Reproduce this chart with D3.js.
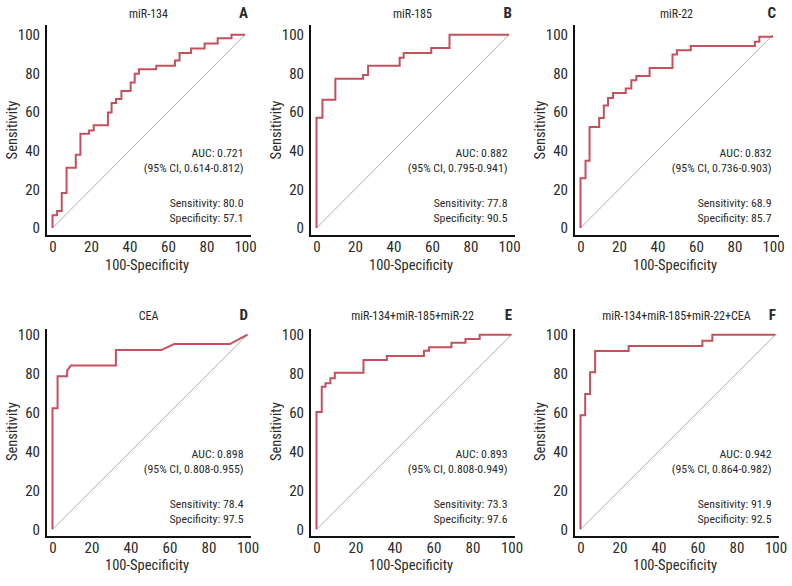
<!DOCTYPE html>
<html>
<head>
<meta charset="utf-8">
<script src="https://cdn.jsdelivr.net/npm/d3@7"></script>
<style>
  html, body { margin: 0; padding: 0; background: #fff; }
  svg { display: block; }
  text { font-family: "Liberation Sans Narrow", "Roboto Condensed", "DejaVu Sans Condensed", sans-serif; fill: #2a2a2a; }
</style>
</head>
<body>
<svg id="chart" width="792" height="586"></svg>
<script>
// ---------------- data ----------------
const titles = ["miR-134", "miR-185", "miR-22", "CEA", "miR-134+miR-185+miR-22", "miR-134+miR-185+miR-22+CEA"];
const letters = ["A", "B", "C", "D", "E", "F"];
const aucValues = ["0.721", "0.882", "0.832", "0.898", "0.893", "0.942"];
const ciValues = ["0.614-0.812", "0.795-0.941", "0.736-0.903", "0.808-0.955", "0.808-0.949", "0.864-0.982"];
const sensValues = ["80.0", "77.8", "68.9", "78.4", "73.3", "91.9"];
const specValues = ["57.1", "90.5", "85.7", "97.5", "97.6", "92.5"];
const tickValues = [0, 20, 40, 60, 80, 100];

// ROC vertices [100-Specificity, Sensitivity]
const rocA = [[0,0],[0,6.6],[2.4,6.6],[2.4,8.8],[4.8,8.8],[4.8,18.1],[7.3,18.1],[7.3,31.2],[12.1,31.2],[12.1,37.9],[14.5,37.9],[14.5,48.8],[19,48.8],[19,50.5],[21.4,50.5],[21.4,53.1],[28.8,53.1],[28.8,59.7],[30.7,59.7],[30.7,64.7],[33,64.7],[33,66.7],[35.8,66.7],[35.8,70.9],[40.6,70.9],[40.6,75.3],[42.7,75.3],[42.7,79.8],[44.9,79.8],[44.9,82.1],[53.9,82.1],[53.9,84],[63.6,84],[63.6,86.6],[66,86.6],[66,90.5],[72,90.5],[72,92.9],[79,92.9],[79,95.5],[85.8,95.5],[85.8,98.1],[93,98.1],[93,100],[100,100]];
const rocB = [[0,0],[0,57.1],[3.1,57.1],[3.1,66.4],[9.8,66.4],[9.8,77.2],[24.2,77.2],[24.2,79.1],[26.8,79.1],[26.8,84],[43.2,84],[43.2,88.1],[45.3,88.1],[45.3,90.5],[59.6,90.5],[59.6,93.1],[69.1,93.1],[69.1,100],[100,100]];
const rocC = [[0,0],[0,25.7],[2.6,25.7],[2.6,34.8],[4.7,34.8],[4.7,52.2],[9.7,52.2],[9.7,56.9],[12.1,56.9],[12.1,63.4],[14.3,63.4],[14.3,67.2],[16.9,67.2],[16.9,69.8],[23.5,69.8],[23.5,72.2],[26.4,72.2],[26.4,76.4],[29,76.4],[29,78.6],[35.9,78.6],[35.9,82.8],[47.8,82.8],[47.8,89.7],[50.1,89.7],[50.1,91.9],[57.3,91.9],[57.3,94.1],[90.6,94.1],[90.6,96.4],[92.9,96.4],[92.9,99],[100,99]];
const rocD = [[0,0],[0,62.2],[2.6,62.2],[2.6,78.6],[7.5,78.6],[7.5,81.5],[9.5,84.2],[32.5,84.2],[32.5,92.1],[55.8,92.1],[62.4,95.2],[91,95.2],[100,100]];
const rocE = [[0,0],[0,60.3],[2.7,60.3],[2.7,73.3],[4.6,73.3],[4.6,75],[7.1,75],[7.1,77.6],[9.4,77.6],[9.4,80.5],[24.1,80.5],[24.1,87],[36.1,87],[36.1,89],[55.1,89],[55.1,91.8],[57.7,91.8],[57.7,93.5],[69.2,93.5],[69.2,95.9],[76.4,95.9],[76.4,97.8],[83.7,97.8],[83.7,100],[100,100]];
const rocF = [[0,0],[0,58.6],[2.4,58.6],[2.4,69.5],[4.9,69.5],[4.9,80.7],[7.5,80.7],[7.5,91.6],[24.7,91.6],[24.7,94.2],[62.5,94.2],[62.5,96.9],[67.6,96.9],[67.6,100],[100,100]];
const rocCurves = [rocA, rocB, rocC, rocD, rocE, rocF];
const diagonal = [[0,0],[100,100]];

// ---------------- layout ----------------
const colOffsets = [0, 264, 528];
const rows = [
  { y0: 228, y100: 34.7, x0: 52.5, x100: 245, axisTop: 25, axisY: 236, titleY: 17.5, xlabY: 269.5, ylabY: 130, textY: [157, 171.5, 207, 222] },
  { y0: 529.3, y100: 334.7, x0: 52.5, x100: 247.5, axisTop: 329, axisY: 537, titleY: 319.5, xlabY: 570, ylabY: 431.7, textY: [458, 472.5, 508, 523] }
];
const axisX = 46, axisRight = 251;
const curveColor = "#c4505c";

const svg = d3.select("#chart");

rocCurves.forEach((roc, i) => {
  const r = rows[Math.floor(i / 3)];
  const ox = colOffsets[i % 3];
  const g = svg.append("g").attr("transform", `translate(${ox},0)`);

  const x = d3.scaleLinear().domain([0, 100]).range([r.x0, r.x100]);
  const y = d3.scaleLinear().domain([0, 100]).range([r.y0, r.y100]);

  // axes (labels only)
  const yAxis = d3.axisLeft(y).tickValues(tickValues).tickSize(0).tickPadding(6);
  const gy = g.append("g").attr("transform", `translate(${axisX},0)`).call(yAxis);
  gy.select(".domain").remove();
  gy.selectAll("text").attr("font-size", 15).attr("font-family", null).attr("fill", "#333");

  const xAxis = d3.axisBottom(x).tickValues(tickValues).tickSize(0).tickPadding(5);
  const gx = g.append("g").attr("transform", `translate(0,${r.axisY})`).call(xAxis);
  gx.select(".domain").remove();
  gx.selectAll("text").attr("font-size", 15).attr("font-family", null).attr("fill", "#333");

  // axis lines
  g.append("line").attr("x1", axisX).attr("x2", axisX).attr("y1", r.axisTop).attr("y2", r.axisY + 1)
    .attr("stroke", "#111").attr("stroke-width", 2);
  g.append("line").attr("x1", axisX - 1).attr("x2", axisRight).attr("y1", r.axisY).attr("y2", r.axisY)
    .attr("stroke", "#111").attr("stroke-width", 2);

  const line = d3.line().x(d => x(d[0])).y(d => y(d[1]));

  // reference diagonal
  g.append("path").attr("d", line(diagonal)).attr("fill", "none")
    .attr("stroke", "#9a9a9a").attr("stroke-width", 0.8);

  // ROC curve
  g.append("path").attr("d", line(roc)).attr("fill", "none")
    .attr("stroke", curveColor).attr("stroke-width", 2).attr("stroke-linejoin", "miter");

  // titles
  g.append("text").attr("x", 148.5).attr("y", r.titleY).attr("text-anchor", "middle")
    .attr("font-size", 12).text(titles[i]);
  g.append("text").attr("x", 248).attr("y", r.titleY + 0.5).attr("text-anchor", "end")
    .attr("font-size", 15).attr("font-weight", "bold").text(letters[i]);

  // axis titles
  g.append("text").attr("x", 147).attr("y", r.xlabY).attr("text-anchor", "middle")
    .attr("font-size", 14.5).text("100-Specificity");
  g.append("text").attr("transform", `translate(16.5,${r.ylabY}) rotate(-90)`).attr("text-anchor", "middle")
    .attr("font-size", 14.5).text("Sensitivity");

  // annotations
  const ann = [
    `AUC: ${aucValues[i]}`,
    `(95% CI, ${ciValues[i]})`,
    `Sensitivity: ${sensValues[i]}`,
    `Specificity: ${specValues[i]}`
  ];
  ann.forEach((t, k) => {
    g.append("text").attr("x", 243.5).attr("y", r.textY[k]).attr("text-anchor", "end")
      .attr("font-size", 11.8).text(t);
  });
});
</script>
</body>
</html>
